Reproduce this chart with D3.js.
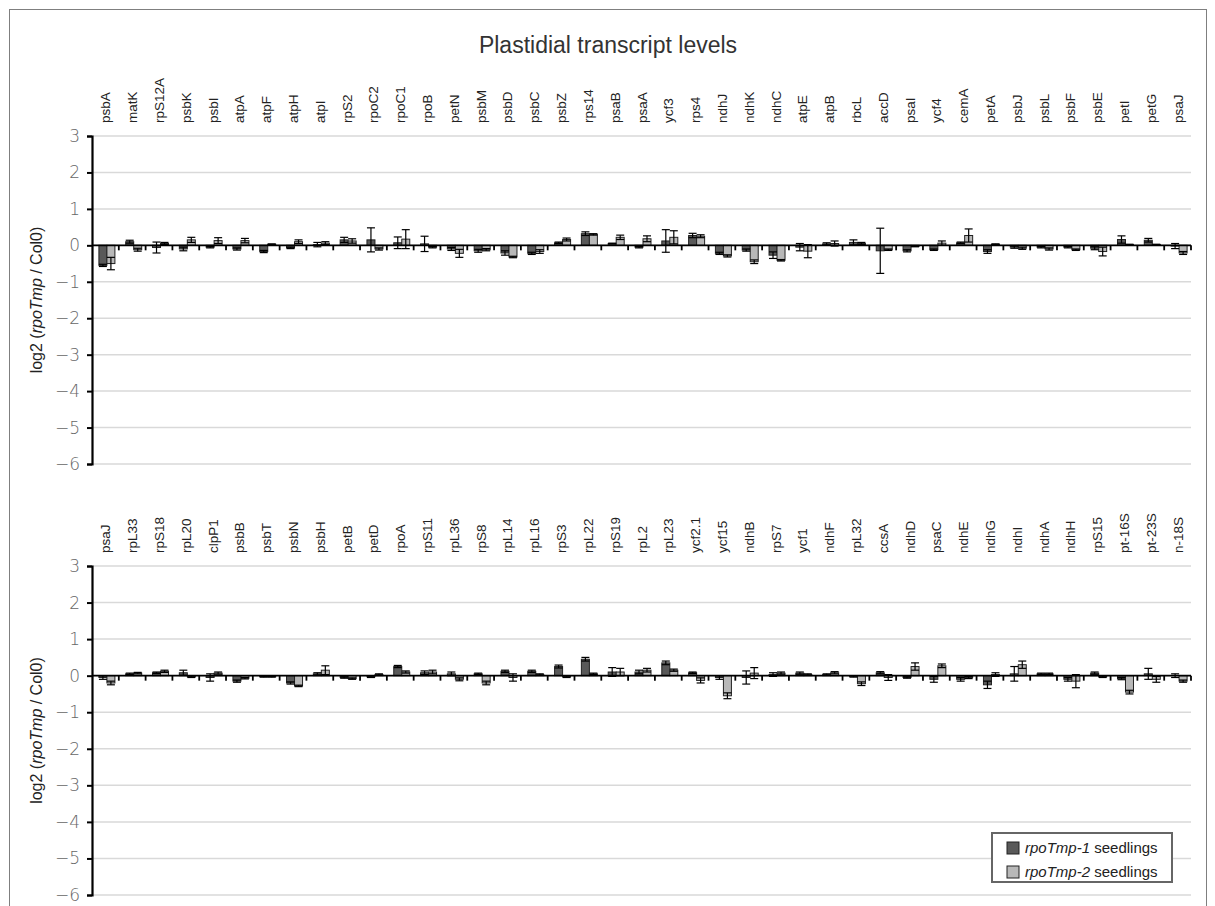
<!DOCTYPE html>
<html>
<head>
<meta charset="utf-8">
<script src="https://cdn.jsdelivr.net/npm/d3@7"></script>
<style>
  html, body { margin: 0; padding: 0; background: #fff; }
  svg { display: block; font-family: "Liberation Sans", Arial, sans-serif; }
</style>
</head>
<body>
<svg id="chart" width="1215" height="906"></svg>
<script>
// ---- data ----
const topGenes = ["psbA", "matK", "rpS12A", "psbK", "psbI", "atpA", "atpF", "atpH", "atpI", "rpS2",
    "rpoC2", "rpoC1", "rpoB", "petN", "psbM", "psbD", "psbC", "psbZ", "rps14", "psaB",
    "psaA", "ycf3", "rps4", "ndhJ", "ndhK", "ndhC", "atpE", "atpB", "rbcL", "accD",
    "psaI", "ycf4", "cemA", "petA", "psbJ", "psbL", "psbF", "psbE", "petI", "petG", "psaJ"];
const topMp1 = [-0.55, 0.10, -0.06, -0.10, -0.05, -0.10, -0.17, -0.07, 0.02, 0.15,
    0.15, 0.07, 0.04, -0.10, -0.15, -0.21, -0.22, 0.07, 0.32, 0.05,
    -0.05, 0.12, 0.27, -0.22, -0.13, -0.27, -0.05, 0.04, 0.08, -0.15,
    -0.15, -0.12, 0.07, -0.17, -0.05, -0.05, -0.05, -0.08, 0.16, 0.14, -0.02];
const topMp1Err = [0.03, 0.04, 0.15, 0.05, 0.02, 0.03, 0.03, 0.02, 0.06, 0.07,
    0.33, 0.16, 0.21, 0.04, 0.04, 0.06, 0.03, 0.02, 0.05, 0.01,
    0.02, 0.31, 0.06, 0.03, 0.03, 0.09, 0.10, 0.03, 0.07, 0.62,
    0.03, 0.02, 0.02, 0.05, 0.03, 0.02, 0.02, 0.04, 0.10, 0.05, 0.07];
const topMp2 = [-0.50, -0.12, 0.05, 0.15, 0.13, 0.13, 0.03, 0.10, 0.06, 0.12,
    -0.10, 0.17, -0.05, -0.22, -0.12, -0.32, -0.17, 0.16, 0.30, 0.22,
    0.18, 0.22, 0.25, -0.29, -0.45, -0.41, -0.16, 0.05, 0.05, -0.12,
    -0.03, 0.06, 0.27, 0.03, -0.08, -0.10, -0.12, -0.17, 0.02, 0.02, -0.21];
const topMp2Err = [0.17, 0.04, 0.03, 0.07, 0.08, 0.06, 0.01, 0.05, 0.04, 0.06,
    0.03, 0.26, 0.02, 0.11, 0.03, 0.02, 0.05, 0.04, 0.02, 0.06,
    0.08, 0.18, 0.04, 0.03, 0.05, 0.02, 0.18, 0.07, 0.03, 0.02,
    0.01, 0.06, 0.18, 0.01, 0.03, 0.03, 0.02, 0.12, 0.01, 0.01, 0.04];

const botGenes = ["psaJ", "rpL33", "rpS18", "rpL20", "clpP1", "psbB", "psbT", "psbN", "psbH", "petB",
    "petD", "rpoA", "rpS11", "rpL36", "rpS8", "rpL14", "rpL16", "rpS3", "rpL22", "rpS19",
    "rpL2", "rpL23", "ycf2.1", "ycf15", "ndhB", "rpS7", "ycf1", "ndhF", "rpL32", "ccsA",
    "ndhD", "psaC", "ndhE", "ndhG", "ndhI", "ndhA", "ndhH", "rpS15", "pt-16S", "pt-23S", "n-18S"];
const botMp1 = [-0.05, 0.05, 0.08, 0.08, -0.05, -0.15, -0.03, -0.20, 0.05, -0.05,
    -0.03, 0.25, 0.08, 0.05, 0.05, 0.12, 0.12, 0.25, 0.45, 0.10,
    0.10, 0.35, 0.08, -0.05, -0.05, 0.03, 0.07, 0.03, -0.02, 0.08,
    -0.05, -0.10, -0.10, -0.25, 0.05, 0.05, -0.10, 0.07, -0.08, 0.05, 0.00];
const botMp1Err = [0.05, 0.02, 0.02, 0.07, 0.10, 0.03, 0.01, 0.03, 0.03, 0.02,
    0.02, 0.03, 0.05, 0.05, 0.02, 0.03, 0.03, 0.04, 0.05, 0.12,
    0.05, 0.05, 0.02, 0.05, 0.18, 0.05, 0.03, 0.02, 0.02, 0.03,
    0.02, 0.08, 0.05, 0.10, 0.20, 0.02, 0.05, 0.03, 0.03, 0.15, 0.05];
const botMp2 = [-0.20, 0.07, 0.12, -0.03, 0.07, -0.07, -0.03, -0.28, 0.15, -0.08,
    0.03, 0.10, 0.10, -0.10, -0.20, -0.05, 0.03, -0.03, 0.05, 0.10,
    0.15, 0.15, -0.13, -0.55, 0.07, 0.07, 0.03, 0.08, -0.22, -0.05,
    0.25, 0.27, -0.05, 0.03, 0.30, 0.05, -0.15, -0.03, -0.45, -0.10, -0.15];
const botMp2Err = [0.05, 0.02, 0.03, 0.02, 0.03, 0.02, 0.01, 0.02, 0.12, 0.02,
    0.02, 0.03, 0.05, 0.04, 0.05, 0.10, 0.02, 0.02, 0.02, 0.10,
    0.05, 0.03, 0.07, 0.08, 0.15, 0.03, 0.02, 0.03, 0.05, 0.08,
    0.10, 0.05, 0.03, 0.05, 0.10, 0.02, 0.18, 0.02, 0.05, 0.08, 0.03];

const yTicks = [3, 2, 1, 0, -1, -2, -3, -4, -5, -6];
const seriesNames = ["rpoTmp-1", "rpoTmp-2"];
const seriesColors = ["#595959", "#b8b8b8"];

// ---- layout ----
const svg = d3.select("#chart");
const xLeft = 92, xRight = 1191;

// outer frame
svg.append("rect")
    .attr("x", 9.5).attr("y", 9.5)
    .attr("width", 1197).attr("height", 920)
    .attr("fill", "none")
    .attr("stroke", "#7f7f7f")
    .attr("stroke-width", 1);

svg.append("text")
    .text("Plastidial transcript levels")
    .attr("x", 608).attr("y", 53)
    .attr("text-anchor", "middle")
    .style("font-size", "23px")
    .style("fill", "#333");

function drawPanel(genes, v1, e1, v2, e2, yTop, yBottom) {
    const g = svg.append("g");

    const x = d3.scaleBand().domain(genes).range([xLeft, xRight]).padding(0);
    const bw = 8;
    const xs = d3.scaleBand().domain([0, 1])
        .range([x.bandwidth() / 2 - bw + 1.5, x.bandwidth() / 2 + bw + 1.5]);
    const y = d3.scaleLinear().domain([-6, 3]).range([yBottom, yTop]);

    // gridlines
    g.append("g")
        .selectAll("line")
        .data(yTicks)
        .join("line")
        .attr("x1", xLeft).attr("x2", xRight)
        .attr("y1", d => y(d)).attr("y2", d => y(d))
        .attr("stroke", "#d9d9d9")
        .attr("stroke-width", 1.5);

    // y axis
    const yAxis = g.append("g")
        .attr("transform", `translate(${xLeft}, 0)`)
        .call(d3.axisLeft(y).tickValues(yTicks).tickSize(5).tickPadding(7)
            .tickFormat(d => d < 0 ? "\u2212" + Math.abs(d) : d));
    yAxis.select(".domain").attr("stroke", "#000").attr("stroke-width", 2.2);
    yAxis.selectAll(".tick line").attr("stroke", "#000").attr("stroke-width", 2);
    yAxis.selectAll(".tick text")
        .style("font-size", "17px")
        .style("fill", "#666")
        .style("font-family", "'DejaVu Sans', sans-serif")
        .style("font-weight", "200");

    // category labels
    g.append("g")
        .selectAll("text")
        .data(genes)
        .join("text")
        .text(d => d)
        .attr("transform", d => `translate(${x(d) + x.bandwidth() / 2 + 5}, ${yTop - 13}) rotate(-90)`)
        .style("font-size", "13.5px")
        .style("fill", "#222")
        .style("text-anchor", "start");

    const rows = genes.map((gene, i) => ({
        gene: gene,
        vals: [{ s: 0, v: v1[i], e: e1[i] }, { s: 1, v: v2[i], e: e2[i] }]
    }));

    const groups = g.append("g")
        .selectAll("g")
        .data(rows)
        .join("g")
        .attr("transform", d => `translate(${x(d.gene)}, 0)`);

    // bars
    groups.selectAll("rect")
        .data(d => d.vals)
        .join("rect")
        .attr("x", d => xs(d.s))
        .attr("width", xs.bandwidth())
        .attr("y", d => Math.min(y(d.v), y(0)))
        .attr("height", d => Math.abs(y(d.v) - y(0)))
        .attr("fill", d => seriesColors[d.s])
        .attr("stroke", "#222")
        .attr("stroke-width", 1);

    // zero axis with category ticks
    g.append("line")
        .attr("x1", xLeft).attr("x2", xRight)
        .attr("y1", y(0)).attr("y2", y(0))
        .attr("stroke", "#000")
        .attr("stroke-width", 1.8);
    g.append("g")
        .selectAll("line")
        .data(genes.slice(1).concat(["__end"]))
        .join("line")
        .attr("x1", d => d === "__end" ? xRight : x(d))
        .attr("x2", d => d === "__end" ? xRight : x(d))
        .attr("y1", y(0)).attr("y2", y(0) + 5)
        .attr("stroke", "#000")
        .attr("stroke-width", 1.8);

    // error bars
    const err = groups.selectAll("g.err")
        .data(d => d.vals)
        .join("g")
        .classed("err", true)
        .attr("transform", d => `translate(${xs(d.s) + xs.bandwidth() / 2}, 0)`);
    err.append("line")
        .attr("x1", 0).attr("x2", 0)
        .attr("y1", d => y(d.v + d.e)).attr("y2", d => y(d.v - d.e))
        .attr("stroke", "#000").attr("stroke-width", 1.2);
    err.selectAll("line.cap")
        .data(d => [d.v + d.e, d.v - d.e])
        .join("line")
        .classed("cap", true)
        .attr("x1", -4).attr("x2", 4)
        .attr("y1", d => y(d)).attr("y2", d => y(d))
        .attr("stroke", "#000").attr("stroke-width", 1.2);

    // y axis title
    const title = g.append("text")
        .attr("transform", `translate(42, ${(yTop + yBottom) / 2}) rotate(-90)`)
        .style("text-anchor", "middle")
        .style("font-size", "16px")
        .style("fill", "#222");
    title.append("tspan").text("log2 (");
    title.append("tspan").text("rpoTmp").style("font-style", "italic");
    title.append("tspan").text(" / Col0)").style("font-style", "normal");

    return y;
}

drawPanel(topGenes, topMp1, topMp1Err, topMp2, topMp2Err, 136, 464);
drawPanel(botGenes, botMp1, botMp1Err, botMp2, botMp2Err, 566, 895);

// legend
const legend = svg.append("g").attr("transform", "translate(992, 833)");
legend.append("rect")
    .attr("width", 180).attr("height", 49)
    .attr("fill", "#fff")
    .attr("stroke", "#666")
    .attr("stroke-width", 2);
seriesNames.forEach((name, i) => {
    const row = legend.append("g").attr("transform", `translate(15, ${9 + i * 24})`);
    row.append("rect")
        .attr("width", 12).attr("height", 12)
        .attr("fill", seriesColors[i])
        .attr("stroke", "#222");
    const t = row.append("text")
        .attr("x", 18).attr("y", 11)
        .style("font-size", "15px")
        .style("fill", "#222");
    t.append("tspan").text(name).style("font-style", "italic");
    t.append("tspan").text(" seedlings").style("font-style", "normal");
});
</script>
</body>
</html>
